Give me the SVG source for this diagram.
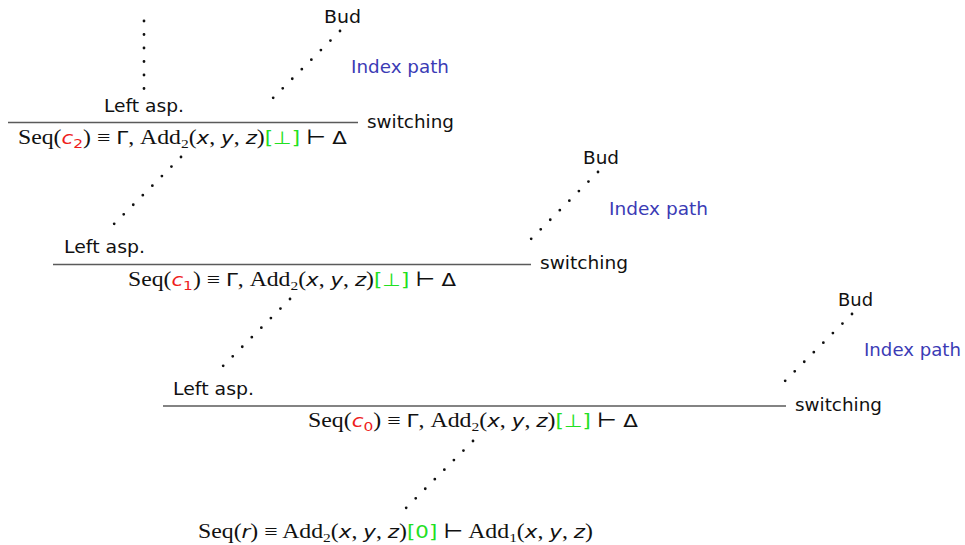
<svg xmlns="http://www.w3.org/2000/svg" width="965" height="545" viewBox="0 0 965 545">
  <style>
    .lbl { font-family: "DejaVu Sans", "Liberation Sans", sans-serif; font-size: 18px; fill: #111; }
    .idx { fill: #3b3bb5; }
    .rule { stroke: #5a5a5a; stroke-width: 1.6; fill: none; }
    .dots { stroke: #111; stroke-width: 2.8; stroke-linecap: round; stroke-dasharray: 0 13.5; fill: none; }
    .f { font-family: "Liberation Serif", "DejaVu Serif", serif; font-size: 20px; fill: #111; }
    .it { font-family: "DejaVu Sans", "Liberation Sans", sans-serif; font-style: oblique; font-size: 18px; }
    .sf { font-family: "DejaVu Sans", "Liberation Sans", sans-serif; font-size: 18px; }
    .sub { font-size: 13px; }
    .red { fill: #ee1c1c; }
    .grn { fill: #22e022; font-family: "DejaVu Sans", "Liberation Sans", sans-serif; font-size: 18px; }
  </style>

  <!-- sequent c2 -->
  <g id="seq-c2">
    <text class="lbl" x="104" y="112" textLength="80" lengthAdjust="spacingAndGlyphs">Left asp.</text>
    <line class="rule" x1="8" y1="122.5" x2="358" y2="122.5"/>
    <text class="lbl" x="367" y="128" textLength="87" lengthAdjust="spacingAndGlyphs">switching</text>
    <text class="f" x="18" y="144" textLength="329" lengthAdjust="spacingAndGlyphs">Seq(<tspan class="it red">c</tspan><tspan class="sub sf red" dy="4">2</tspan><tspan dy="-4">) ≡ </tspan><tspan class="sf">Γ</tspan>, Add<tspan class="sub" dy="4">2</tspan><tspan dy="-4">(</tspan><tspan class="it">x</tspan>, <tspan class="it">y</tspan>, <tspan class="it">z</tspan>)<tspan class="grn">[⊥]</tspan> ⊢ <tspan class="sf">Δ</tspan></text>
  </g>

  <g id="bud-c2">
    <text class="lbl" x="324" y="23" textLength="37" lengthAdjust="spacingAndGlyphs">Bud</text>
    <text class="lbl idx" x="351" y="73" textLength="98" lengthAdjust="spacingAndGlyphs">Index path</text>
  </g>

  <!-- sequent c1 -->
  <g id="seq-c1">
    <text class="lbl" x="64" y="253" textLength="81" lengthAdjust="spacingAndGlyphs">Left asp.</text>
    <line class="rule" x1="53" y1="264.5" x2="531" y2="264.5"/>
    <text class="lbl" x="540" y="269" textLength="88" lengthAdjust="spacingAndGlyphs">switching</text>
    <text class="f" x="128" y="286" textLength="328" lengthAdjust="spacingAndGlyphs">Seq(<tspan class="it red">c</tspan><tspan class="sub sf red" dy="4">1</tspan><tspan dy="-4">) ≡ </tspan><tspan class="sf">Γ</tspan>, Add<tspan class="sub" dy="4">2</tspan><tspan dy="-4">(</tspan><tspan class="it">x</tspan>, <tspan class="it">y</tspan>, <tspan class="it">z</tspan>)<tspan class="grn">[⊥]</tspan> ⊢ <tspan class="sf">Δ</tspan></text>
  </g>

  <g id="bud-c1">
    <text class="lbl" x="583" y="164" textLength="36" lengthAdjust="spacingAndGlyphs">Bud</text>
    <text class="lbl idx" x="609" y="215" textLength="99" lengthAdjust="spacingAndGlyphs">Index path</text>
  </g>

  <!-- sequent c0 -->
  <g id="seq-c0">
    <text class="lbl" x="173" y="395" textLength="81" lengthAdjust="spacingAndGlyphs">Left asp.</text>
    <line class="rule" x1="163" y1="406" x2="786" y2="406"/>
    <text class="lbl" x="795" y="411" textLength="87" lengthAdjust="spacingAndGlyphs">switching</text>
    <text class="f" x="308" y="427" textLength="330" lengthAdjust="spacingAndGlyphs">Seq(<tspan class="it red">c</tspan><tspan class="sub sf red" dy="4">0</tspan><tspan dy="-4">) ≡ </tspan><tspan class="sf">Γ</tspan>, Add<tspan class="sub" dy="4">2</tspan><tspan dy="-4">(</tspan><tspan class="it">x</tspan>, <tspan class="it">y</tspan>, <tspan class="it">z</tspan>)<tspan class="grn">[⊥]</tspan> ⊢ <tspan class="sf">Δ</tspan></text>
  </g>

  <g id="bud-c0">
    <text class="lbl" x="838" y="306" textLength="35" lengthAdjust="spacingAndGlyphs">Bud</text>
    <text class="lbl idx" x="864" y="356" textLength="97" lengthAdjust="spacingAndGlyphs">Index path</text>
  </g>

  <!-- root sequent -->
  <g id="seq-root">
    <text class="f" x="198" y="538" textLength="395" lengthAdjust="spacingAndGlyphs">Seq(<tspan class="it">r</tspan>) ≡ Add<tspan class="sub" dy="4">2</tspan><tspan dy="-4">(</tspan><tspan class="it">x</tspan>, <tspan class="it">y</tspan>, <tspan class="it">z</tspan>)<tspan class="grn">[0]</tspan> ⊢ Add<tspan class="sub" dy="4">1</tspan><tspan dy="-4">(</tspan><tspan class="it">x</tspan>, <tspan class="it">y</tspan>, <tspan class="it">z</tspan>)</text>
  </g>

  <!-- dotted connectors -->
  <g id="connectors">
    <line class="dots" x1="144" y1="21" x2="144" y2="89"/>
    <line class="dots" x1="340" y1="31" x2="273" y2="98"/>
    <line class="dots" x1="181" y1="157" x2="114" y2="224"/>
    <line class="dots" x1="598" y1="172" x2="531" y2="239"/>
    <line class="dots" x1="290" y1="299" x2="223" y2="366"/>
    <line class="dots" x1="852" y1="314" x2="785" y2="381"/>
    <line class="dots" x1="473" y1="441" x2="406" y2="508"/>
  </g>
</svg>
